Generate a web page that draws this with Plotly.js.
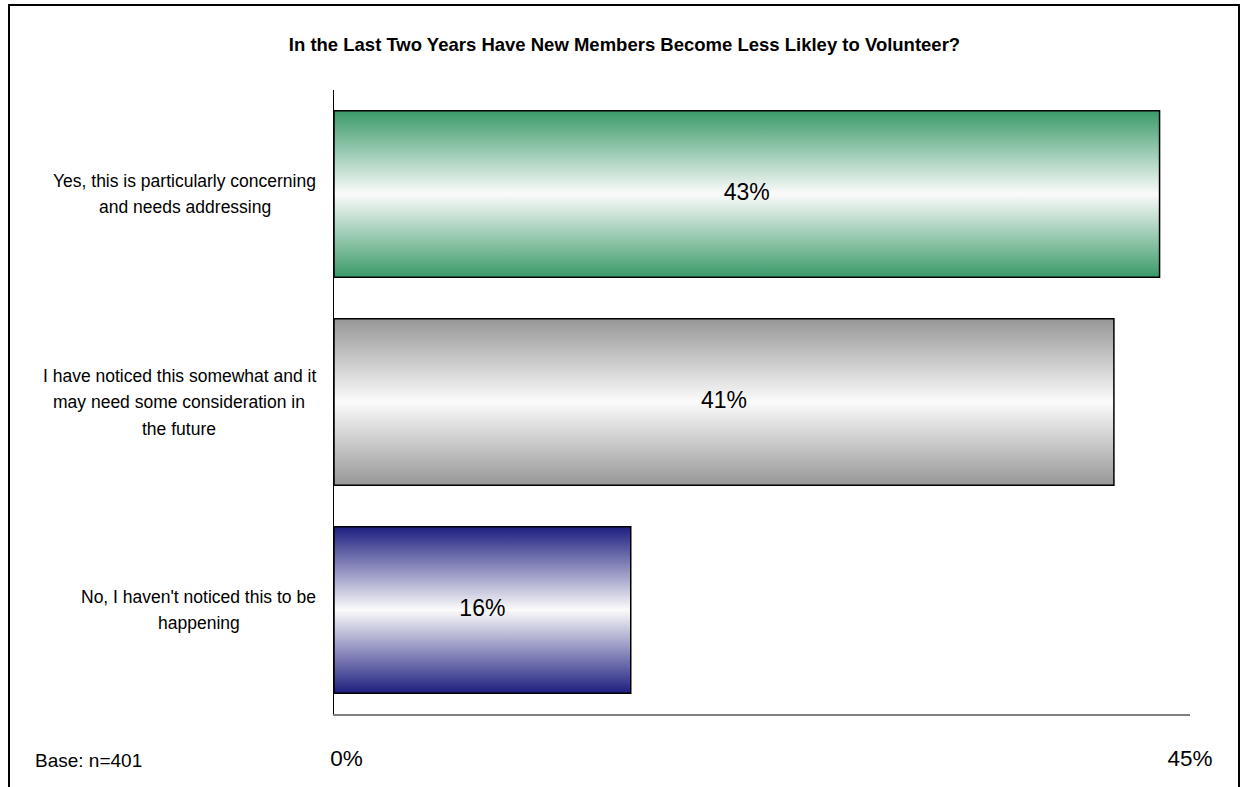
<!DOCTYPE html>
<html>
<head>
<meta charset="utf-8">
<script src="https://cdn.plot.ly/plotly-3.0.1.min.js"></script>
<style>
  html, body { margin: 0; padding: 0; background: #fff; }
  #wrap { position: relative; width: 1244px; height: 787px; overflow: hidden; }
  #chart { width: 1244px; height: 787px; }
  #frame { position: absolute; left: 8px; top: 4px; width: 1232px; height: 800px;
           border: 2px solid #000; pointer-events: none; box-sizing: border-box; }
</style>
</head>
<body>
<div id="wrap">
  <div id="chart"></div>
  <div id="frame"></div>
</div>
<script>
// ---- data ----
const categories = [
  "Yes, this is particularly concerning<br>and needs addressing",
  "I have noticed this somewhat and it<br>may need some consideration in<br>the future",
  "No, I haven't noticed this to be<br>happening"
];
const values = [43.4, 41.0, 15.6];
const edgeColors = ["#3a9a69", "#979797", "#1e1e80"];
const xTickVals = [0, 45];
const xTickText = ["\u00a0\u00a0\u00a0\u00a00%", "45%"];
const titleText = "In the Last Two Years Have New Members Become Less Likley to Volunteer?";
const baseNote = "Base: n=401";

const FONT = "Liberation Sans, Arial, Helvetica, sans-serif";
const LABEL_SIZE = 17.5;
const LINE_GAP = 26.5;
const LABEL_RIGHT = 316;   // px, right edge of label blocks
const PLOT_LEFT = 334;
const half = 0.4;

const traces = [];
values.forEach((v, i) => {
  traces.push({
    type: "scatter",
    mode: "lines",
    x: [0, v, v, 0, 0],
    y: [i - half, i - half, i + half, i + half, i - half],
    fill: "toself",
    fillgradient: {
      type: "vertical",
      colorscale: [[0, edgeColors[i]], [0.5, "#fbfbfb"], [1, edgeColors[i]]]
    },
    line: { color: "#000", width: 1.5 },
    hoverinfo: "skip",
    showlegend: false
  });
});
traces.push({
  type: "scatter",
  mode: "text",
  x: values.map(v => v / 2),
  y: values.map((v, i) => i),
  text: values.map(v => Math.round(v) + "%"),
  textposition: "middle center",
  textfont: { family: FONT, size: 23, color: "#000" },
  hoverinfo: "skip",
  showlegend: false
});

// measure label widths so each block is centred and right-aligned like the original
const ctx = document.createElement("canvas").getContext("2d");
ctx.font = LABEL_SIZE + "px 'Liberation Sans'";

const annotations = [];
categories.forEach((c, i) => {
  const lines = c.split("<br>");
  const maxW = Math.max(...lines.map(l => ctx.measureText(l).width));
  const centerPx = LABEL_RIGHT - maxW / 2;
  lines.forEach((ln, k) => {
    annotations.push({
      xref: "paper", yref: "y",
      x: 0, y: i,
      xanchor: "center", yanchor: "middle",
      xshift: centerPx - PLOT_LEFT,
      yshift: -(k - (lines.length - 1) / 2) * LINE_GAP,
      text: ln,
      showarrow: false,
      font: { family: FONT, size: LABEL_SIZE, color: "#000" }
    });
  });
});
annotations.push({
  xref: "paper", yref: "paper",
  x: (33 - 334) / 856, y: -(760 - 714) / 624,
  xanchor: "left", yanchor: "middle",
  text: baseNote, showarrow: false,
  font: { family: FONT, size: 19, color: "#000" }
});

const layout = {
  width: 1244, height: 787,
  margin: { l: 334, r: 54, t: 90, b: 73 },
  paper_bgcolor: "#fff", plot_bgcolor: "#fff",
  title: {
    text: "<b>" + titleText + "</b>",
    font: { family: FONT, size: 18.5, color: "#000" },
    x: 0.502, xanchor: "center",
    yref: "container", y: 1 - 45 / 787, yanchor: "middle"
  },
  xaxis: {
    range: [0, 45],
    tickvals: xTickVals, ticktext: xTickText,
    showgrid: false, zeroline: false,
    showline: true, linecolor: "#808080", linewidth: 1.5,
    ticks: "", ticklabelstandoff: 23,
    tickfont: { family: FONT, size: 22.5, color: "#000" },
    fixedrange: true
  },
  yaxis: {
    range: [2.5, -0.5],
    showticklabels: false,
    showgrid: false, zeroline: false,
    showline: true, linecolor: "#000", linewidth: 1,
    ticks: "",
    fixedrange: true
  },
  annotations: annotations,
  showlegend: false
};

Plotly.newPlot("chart", traces, layout, { displayModeBar: false, staticPlot: true });
</script>
</body>
</html>
